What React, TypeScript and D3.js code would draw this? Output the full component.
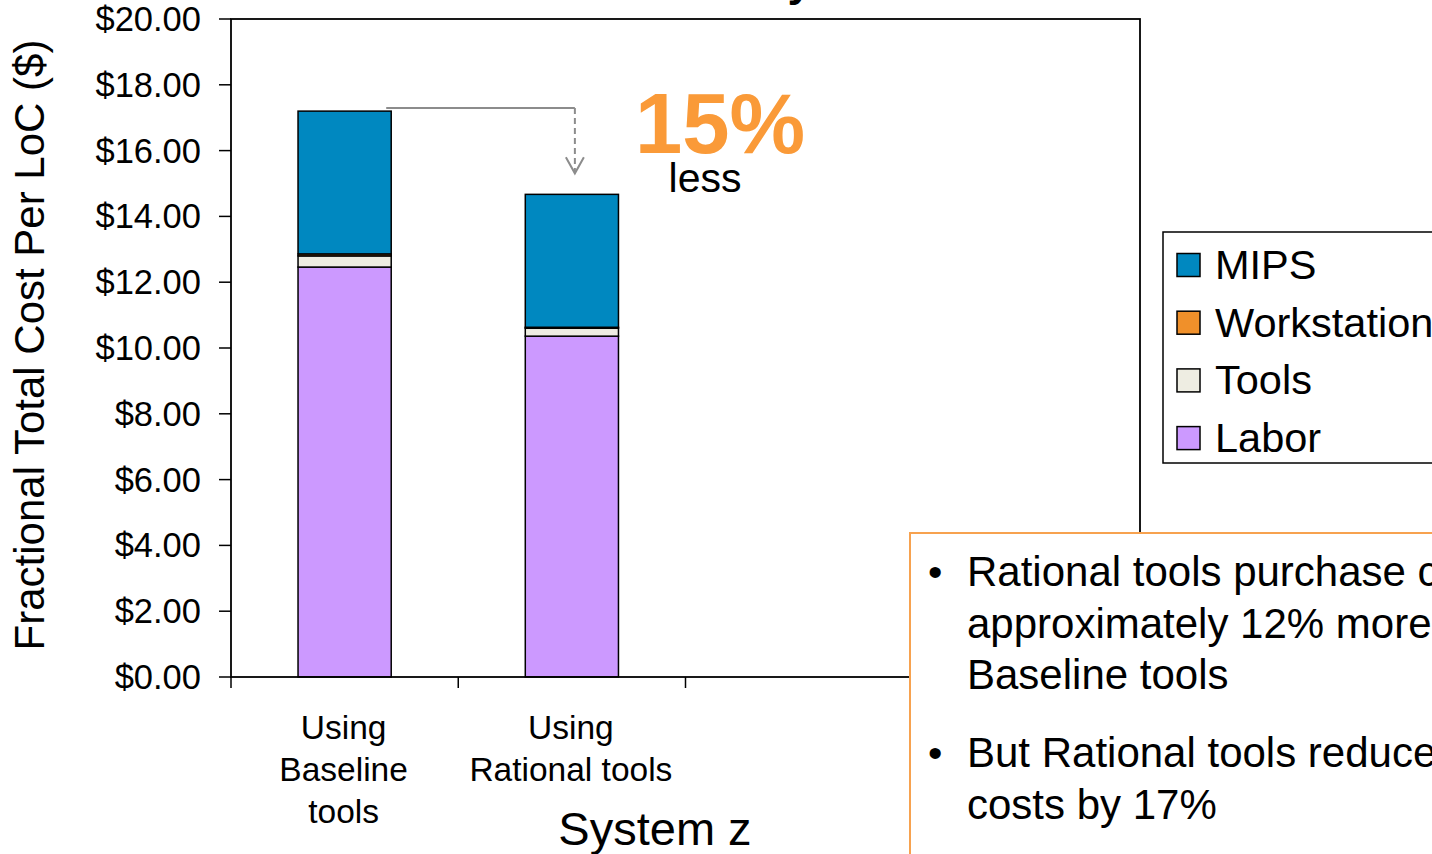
import { useMemo } from "react";
import * as d3 from "d3";

// data
const categories = ["Using|Baseline|tools", "Using|Rational tools"];
const emptySlots = ["slot3", "slot4"];
const labor = [12.46, 10.36];
const tools = [0.34, 0.24];
const workstation = [0.06, 0.03];
const mips = [4.34, 4.04];
const seriesKeys = ["Labor", "Tools", "Workstation", "MIPS"];
const legendKeys = ["MIPS", "Workstation", "Tools", "Labor"];
const yTicks = [0, 2, 4, 6, 8, 10, 12, 14, 16, 18, 20];
const bullets = [
  ["Rational tools purchase costs", "approximately 12% more than", "Baseline tools"],
  ["But Rational tools reduce total", "costs by 17%"],
];

const colors: Record<string, string> = {
  MIPS: "#0088c0",
  Workstation: "#f0902a",
  Tools: "#eeede2",
  Labor: "#cc99ff",
};

const FONT = "'Liberation Sans', Arial, sans-serif";
const W = 1432;
const H = 854;
const left = 231;
const right = 1140;
const top = 19;
const bottom = 677;

export default function App() {
  const x = useMemo(
    () =>
      d3
        .scaleBand<string>()
        .domain([...categories, ...emptySlots])
        .range([left, right])
        .paddingInner(0.59)
        .paddingOuter(0.295),
    []
  );
  const y = useMemo(() => d3.scaleLinear().domain([0, 20]).range([bottom, top]), []);

  const table = categories.map((c, i) => ({
    cat: c,
    Labor: labor[i],
    Tools: tools[i],
    Workstation: workstation[i],
    MIPS: mips[i],
  }));
  const stacked = d3.stack<any>().keys(seriesKeys)(table);

  const step = x.step();
  const boundaries = [...x.domain().map((d) => x(d)! - (step * 0.59) / 2), right];

  const total0 = d3.sum(seriesKeys, (k) => (table[0] as any)[k]);
  const total1 = d3.sum(seriesKeys, (k) => (table[1] as any)[k]);
  const arrowY = y(total0) - 3;
  const arrowStartX = x(categories[0])! + x.bandwidth() - 5;
  const arrowEndX = x(categories[1])! + x.bandwidth() / 2 + 3;
  const arrowTipY = y(total1) - 21;

  return (
    <svg
      width={W}
      height={H}
      style={{ position: "absolute", left: 0, top: 0, background: "#fff" }}
      fontFamily={FONT}
    >
      {/* title, mostly cut off at the top */}
      <text x={812} y={-4} textAnchor="end" fontSize={44} fontWeight={700}>
        Cost Summary
      </text>

      {/* bars */}
      {stacked.map((s) => (
        <g key={s.key} fill={colors[s.key]}>
          {s.map((d, i) => (
            <rect
              key={i}
              x={x(categories[i])}
              y={y(d[1])}
              width={x.bandwidth()}
              height={y(d[0]) - y(d[1])}
              stroke="#000"
              strokeWidth={1.5}
            />
          ))}
        </g>
      ))}

      {/* frame */}
      <rect x={left} y={top} width={right - left} height={bottom - top} fill="none" stroke="#000" strokeWidth={1.8} />

      {/* y axis */}
      {yTicks.map((t) => (
        <g key={t}>
          <line x1={left - 12} x2={left} y1={y(t)} y2={y(t)} stroke="#000" strokeWidth={1.5} />
          <text x={201} y={y(t) + 12} textAnchor="end" fontSize={34.5}>
            {"$" + t.toFixed(2)}
          </text>
        </g>
      ))}
      <text
        transform={`translate(44,${(top + bottom) / 2 - 3}) rotate(-90)`}
        textAnchor="middle"
        fontSize={42}
      >
        Fractional Total Cost Per LoC ($)
      </text>

      {/* x axis */}
      {boundaries.map((b, i) => (
        <line key={i} x1={b} x2={b} y1={bottom} y2={bottom + 11} stroke="#000" strokeWidth={1.5} />
      ))}
      {categories.map((c) => (
        <text key={c} x={x(c)! + x.bandwidth() / 2} textAnchor="middle" fontSize={33.5}>
          {c.split("|").map((line, j) => (
            <tspan key={j} x={x(c)! + x.bandwidth() / 2 - 1} y={739 + j * 42}>
              {line}
            </tspan>
          ))}
        </text>
      ))}
      <text x={655} y={845} textAnchor="middle" fontSize={47}>
        System z
      </text>

      {/* annotation */}
      <path
        d={`M${arrowStartX},${arrowY}H${arrowEndX}`}
        fill="none"
        stroke="#8c8c8c"
        strokeWidth={2}
      />
      <path
        d={`M${arrowEndX},${arrowY}V${arrowTipY}`}
        fill="none"
        stroke="#8c8c8c"
        strokeWidth={2}
        strokeDasharray="6,4"
      />
      <path
        d={`M${arrowEndX - 9},${arrowTipY - 16}L${arrowEndX},${arrowTipY}L${arrowEndX + 9},${arrowTipY - 16}`}
        fill="none"
        stroke="#8c8c8c"
        strokeWidth={2}
      />
      <text x={720} y={153} textAnchor="middle" fontSize={85} fontWeight={700} fill="#fa9a38">
        15%
      </text>
      <text x={705} y={192} textAnchor="middle" fontSize={41}>
        less
      </text>

      {/* legend */}
      <rect x={1163} y={232} width={300} height={231} fill="#fff" stroke="#000" strokeWidth={1.5} />
      {legendKeys.map((k, i) => (
        <g key={k} transform={`translate(1177,${265 + i * 57.7})`}>
          <rect x={0} y={-11.5} width={23} height={23} fill={colors[k]} stroke="#000" strokeWidth={1.5} />
          <text x={38} y={14} fontSize={41.5}>
            {k === "Workstation" ? "Workstations" : k}
          </text>
        </g>
      ))}

      {/* text box */}
      <rect x={910} y={533} width={560} height={360} fill="#fff" stroke="#f7a24f" strokeWidth={2} />
      {bullets.map((lines, i) => (
        <g key={i}>
          <text x={928} y={586 + i * 181} fontSize={41}>
            •
          </text>
          {lines.map((line, j) => (
            <text key={j} x={967} y={586 + i * 181 + j * 51.5} fontSize={42}>
              {line}
            </text>
          ))}
        </g>
      ))}
    </svg>
  );
}
